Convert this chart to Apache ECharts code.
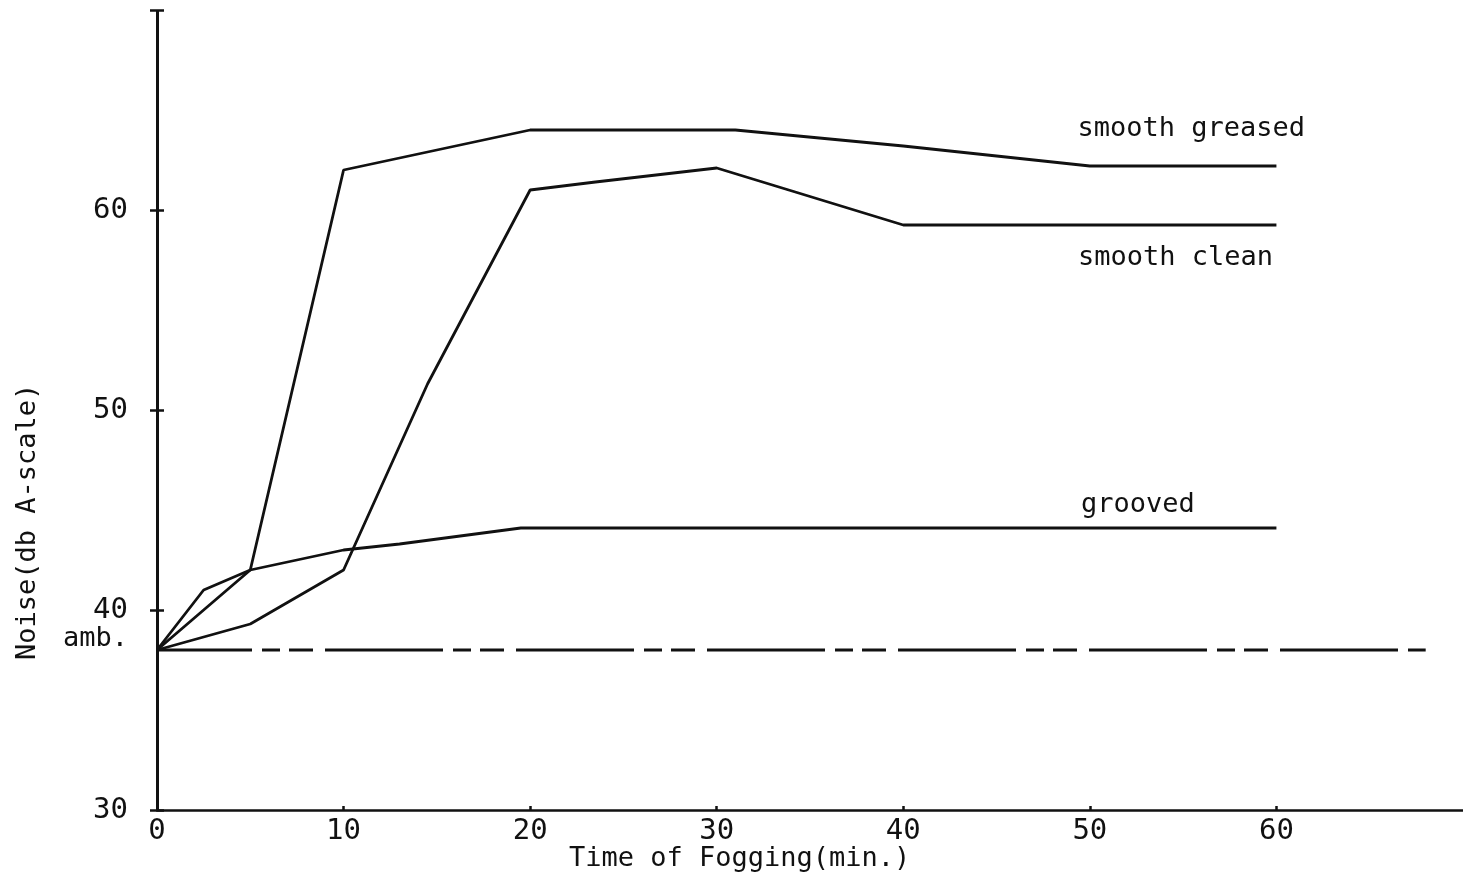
<!DOCTYPE html>
<html>
<head>
<meta charset="utf-8">
<script src="https://cdn.jsdelivr.net/npm/echarts@6/dist/echarts.min.js"></script>
<style>
  html, body { margin: 0; padding: 0; background: #fff; }
  #chart { width: 1463px; height: 881px; }
</style>
</head>
<body>
<div id="chart"></div>
<script>
// time of fogging (min) / noise (db A-scale)
const greasedTime = [0, 5, 10, 20, 31, 40, 50, 60];
const greasedNoise = [38, 42, 62, 64, 64, 63.2, 62.2, 62.2];
const cleanTime = [0, 5, 10, 14.5, 20, 23.5, 30, 40, 60];
const cleanNoise = [38, 39.3, 42, 51.3, 61, 61.4, 62.1, 59.25, 59.25];
const groovedTime = [0, 2.5, 5, 10, 13, 19.5, 60];
const groovedNoise = [38, 41, 42, 43, 43.3, 44.1, 44.1];
const ambientTime = [0, 68];
const ambientNoise = [38, 38];

const xTickValues = [0, 10, 20, 30, 40, 50, 60];
const yLabelValues = [30, 40, 50, 60];

const seriesNames = ['smooth greased', 'smooth clean', 'grooved'];
// where each curve name is written (data coords)
const nameSpots = [[49.34, 64.05], [49.36, 57.6], [49.52, 45.25]];

const FONT = 'DejaVu Sans Mono';
const INK = '#111';
const HALF_TICK = 7;

const pair = (xs, ys) => xs.map((x, i) => [x, ys[i]]);

const chart = echarts.init(document.getElementById('chart'));

// 曲线
const curves = [
  pair(greasedTime, greasedNoise),
  pair(cleanTime, cleanNoise),
  pair(groovedTime, groovedNoise)
].map((data, i) => ({
  name: seriesNames[i],
  type: 'line',
  data: data,
  symbol: 'none',
  silent: true,
  lineStyle: { color: INK, width: 2.8 },
  markPoint: {
    symbol: 'circle',
    symbolSize: 0,
    silent: true,
    data: [{
      coord: nameSpots[i],
      label: {
        show: true,
        position: 'right',
        distance: 0,
        formatter: seriesNames[i],
        color: INK,
        fontFamily: FONT,
        fontSize: 27
      }
    }]
  }
}));

const option = {
  backgroundColor: '#fff',
  animation: false,
  grid: { left: 157, right: 0, top: 10, bottom: 71 },
  xAxis: {
    type: 'value',
    min: 0,
    max: 70,
    interval: 10,
    splitLine: { show: false },
    axisLine: { lineStyle: { color: INK, width: 2.5 } },
    axisTick: {
      inside: true,
      length: 4,
      customValues: xTickValues,
      lineStyle: { color: INK, width: 2.5 }
    },
    axisLabel: {
      customValues: xTickValues,
      margin: 7,
      color: INK,
      fontFamily: FONT,
      fontSize: 29
    }
  },
  yAxis: {
    // shifted right by half a tick so the ticks cross the axis line
    type: 'value',
    position: 'left',
    offset: -HALF_TICK,
    min: 30,
    max: 70,
    interval: 10,
    splitLine: { show: false },
    axisLine: { show: false },
    axisTick: { length: HALF_TICK * 2, lineStyle: { color: INK, width: 2.5 } },
    axisLabel: {
      customValues: yLabelValues,
      margin: 29 + HALF_TICK,
      color: INK,
      fontFamily: FONT,
      fontSize: 29
    }
  },
  graphic: [
    {
      type: 'text',
      left: 741 - 172,
      top: 845,
      style: { text: 'Time of Fogging(min.)', fill: INK, font: '27px "' + FONT + '"' }
    },
    {
      type: 'text',
      x: 14,
      y: 660,
      rotation: Math.PI / 2,
      style: { text: 'Noise(db A-scale)', fill: INK, font: '27px "' + FONT + '"' }
    }
  ],
  series: curves.concat([{
    name: 'ambient',
    type: 'line',
    clip: false,
    data: pair(ambientTime, ambientNoise),
    symbol: 'none',
    silent: true,
    lineStyle: { color: INK, width: 3, type: [118, 10, 18, 9, 24, 12], dashOffset: 23 },
    markLine: {
      // the vertical axis line at time 0
      symbol: 'none',
      silent: true,
      label: { show: false },
      lineStyle: { color: INK, width: 3, type: 'solid' },
      data: [{ xAxis: 0 }]
    },
    markPoint: {
      symbol: 'circle',
      symbolSize: 0,
      silent: true,
      data: [{
        coord: [0, 38],
        label: {
          show: true,
          position: 'left',
          distance: 29,
          offset: [0, -11],
          formatter: 'amb.',
          color: INK,
          fontFamily: FONT,
          fontSize: 27
        }
      }]
    }
  }])
};

chart.setOption(option);
</script>
</body>
</html>
